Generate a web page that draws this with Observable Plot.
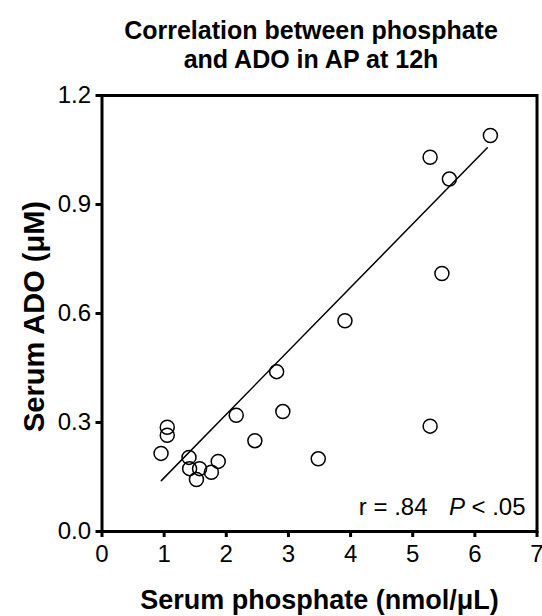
<!DOCTYPE html>
<html>
<head>
<meta charset="utf-8">
<script src="https://cdn.jsdelivr.net/npm/d3@7"></script>
<script src="https://cdn.jsdelivr.net/npm/@observablehq/plot@0.6"></script>
<style>
  body { margin: 0; background: #fff; font-family: "Liberation Sans", Arial, sans-serif; }
  #wrap { position: relative; width: 542px; height: 616px; overflow: hidden; }
  #title { position: absolute; left: 0; top: 16px; width: 622px; text-align: center;
           font-weight: bold; font-size: 25px; line-height: 29px; color: #000; }
  #chart { position: absolute; left: 0; top: 80px; }
</style>
</head>
<body>
<div id="wrap">
  <div id="title">Correlation between phosphate<br>and ADO in AP at 12h</div>
  <div id="chart"></div>
</div>
<script>
const xLabel = "Serum phosphate (nmol/μL)";
const yLabel = "Serum ADO (μM)";
const phosphate = [6.25, 5.28, 5.59, 5.47, 3.91, 2.81, 2.91, 2.16, 5.28, 1.05, 1.05, 2.46, 0.95, 3.48, 1.40, 1.87, 1.41, 1.57, 1.76, 1.52];
const ado       = [1.09, 1.03, 0.97, 0.71, 0.58, 0.44, 0.33, 0.32, 0.29, 0.287, 0.265, 0.25, 0.215, 0.20, 0.204, 0.193, 0.173, 0.173, 0.163, 0.143];
const fitX = [0.955, 6.2];
const fitY = [0.14, 1.056];
const xTicks = [0, 1, 2, 3, 4, 5, 6, 7];
const yTicks = [0, 0.3, 0.6, 0.9, 1.2];
const statR = "r = .84";
const statP = "P";
const statPval = "< .05";

const points = phosphate.map((x, i) => ({x, y: ado[i]}));
const fit = fitX.map((x, i) => ({x, y: fitY[i]}));

const chart = Plot.plot({
  width: 542,
  height: 536,
  marginTop: 15,
  marginBottom: 85,
  marginLeft: 101.5,
  marginRight: 5.5,
  style: {fontFamily: "Liberation Sans, Arial, sans-serif", background: "white", overflow: "visible"},
  x: {domain: [0, 7]},
  y: {domain: [0, 1.2]},
  marks: [
    Plot.axisX({ticks: xTicks, tickSize: 6, strokeWidth: 3, fontSize: 24, tickPadding: 7, label: null, tickFormat: d3.format("d"), color: "black"}),
    Plot.axisY({ticks: yTicks, tickSize: 6, strokeWidth: 3, fontSize: 24, tickPadding: 5, label: null, tickFormat: d3.format(".1f"), color: "black"}),
    Plot.frame({stroke: "black", strokeWidth: 3}),
    Plot.line(fit, {x: "x", y: "y", stroke: "black", strokeWidth: 1.5}),
    Plot.dot(points, {x: "x", y: "y", r: 7, stroke: "black", fill: "none", strokeWidth: 1.5}),
    Plot.text([statR], {text: d => d, frameAnchor: "bottom-right", textAnchor: "end", lineAnchor: "bottom", dx: -109.5, dy: -17, fontSize: 24, fill: "black"}),
    Plot.text([statP], {text: d => d, frameAnchor: "bottom-right", textAnchor: "end", lineAnchor: "bottom", dx: -72, dy: -17, fontSize: 24, fontStyle: "italic", fill: "black"}),
    Plot.text([statPval], {text: d => d, frameAnchor: "bottom-right", textAnchor: "end", lineAnchor: "bottom", dx: -11.5, dy: -17, fontSize: 24, fill: "black"}),
    Plot.text([xLabel], {text: d => d, frameAnchor: "bottom", textAnchor: "middle", lineAnchor: "bottom", dy: 77, fontSize: 27, fontWeight: "bold", fill: "black"}),
    Plot.text([yLabel], {text: d => d, frameAnchor: "left", textAnchor: "middle", lineAnchor: "middle", rotate: -90, dx: -67, dy: 3, fontSize: 29, fontWeight: "bold", fill: "black"})
  ]
});
document.getElementById("chart").appendChild(chart);
</script>
</body>
</html>
